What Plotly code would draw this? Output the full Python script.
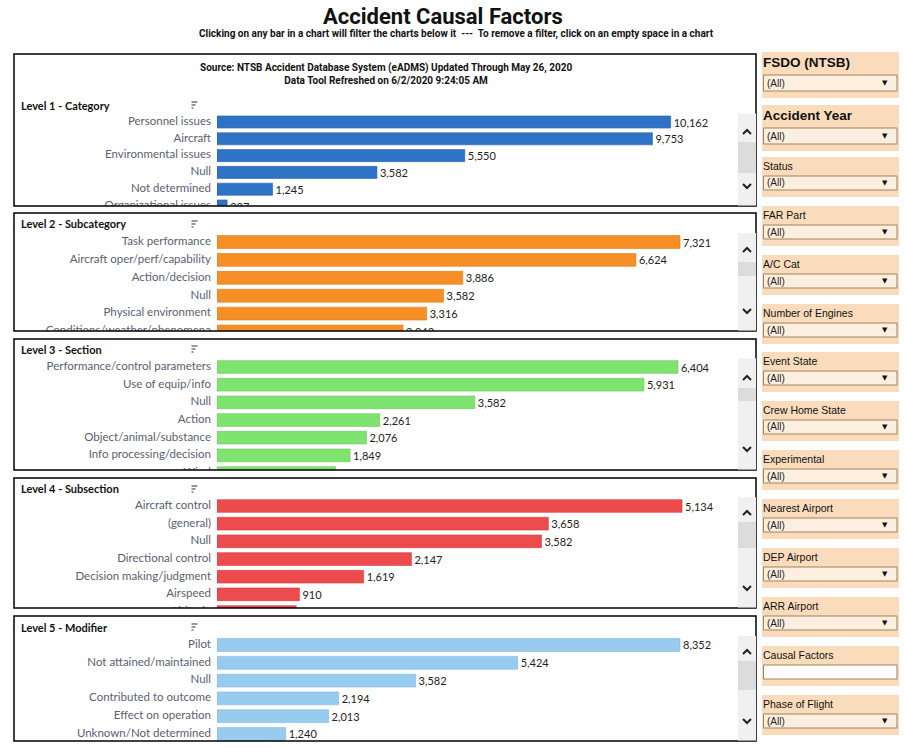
import plotly.graph_objects as go

W, H = 904, 748

# ---------------- data ----------------
level_titles = ["Level 1 - Category", "Level 2 - Subcategory", "Level 3 - Section",
                "Level 4 - Subsection", "Level 5 - Modifier"]

level1_labels = ["Personnel issues", "Aircraft", "Environmental issues", "Null",
                 "Not determined", "Organizational issues"]
level1_values = [10162, 9753, 5550, 3582, 1245, 227]

level2_labels = ["Task performance", "Aircraft oper/perf/capability", "Action/decision", "Null",
                 "Physical environment", "Conditions/weather/phenomena"]
level2_values = [7321, 6624, 3886, 3582, 3316, 2942]

level3_labels = ["Performance/control parameters", "Use of equip/info", "Null", "Action",
                 "Object/animal/substance", "Info processing/decision", "Wind"]
level3_values = [6404, 5931, 3582, 2261, 2076, 1849, 1645]

level4_labels = ["Aircraft control", "(general)", "Null", "Directional control",
                 "Decision making/judgment", "Airspeed", "Altitude"]
level4_values = [5134, 3658, 3582, 2147, 1619, 910, 875]

level5_labels = ["Pilot", "Not attained/maintained", "Null", "Contributed to outcome",
                 "Effect on operation", "Unknown/Not determined"]
level5_values = [8352, 5424, 3582, 2194, 2013, 1240]

filter_names = ["FSDO (NTSB)", "Accident Year", "Status", "FAR Part", "A/C Cat",
                "Number of Engines", "Event State", "Crew Home State", "Experimental",
                "Nearest Airport", "DEP Airport", "ARR Airport", "Causal Factors",
                "Phase of Flight"]
filter_value = "(All)"

title_text = "Accident Causal Factors"
subtitle_text = ("Clicking on any bar in a chart will filter the charts below it  ---  "
                 "To remove a filter, click on an empty space in a chart")
source_text = ("Source: NTSB Accident Database System (eADMS) Updated Through May 26, 2020"
               "<br>Data Tool Refreshed on 6/2/2020 9:24:05 AM")

# ---------------- styles ----------------
all_labels = [level1_labels, level2_labels, level3_labels, level4_labels, level5_labels]
all_values = [level1_values, level2_values, level3_values, level4_values, level5_values]
bar_colors = ["#2f73c6", "#f68f26", "#7fe36f", "#ee4b4f", "#98cbf0"]
bar_edges = ["#2a62a8", "#d97c1e", "#6cc85d", "#d03c40", "#84b7dc"]
axis_max = [11647, 8222, 7224, 5741, 9380]

# panel geometry in pixels: top border, bottom border, first row center, row step, title y
panels = [
    (54, 206, 122, 16.8, 105),
    (213, 331, 242, 17.9, 224),
    (339, 470, 367, 17.67, 349),
    (478, 608, 506, 17.67, 489),
    (616, 741, 645, 17.8, 627),
]
# scrollbar: thumb top, thumb bottom, up arrow y, down arrow y
scrolls = [
    (142, 173, 132, 186),
    (262, 276, 250, 311),
    (388, 401, 378, 449),
    (522, 548, 513, 588),
    (661, 690, 652, 721),
]

FONT = "Lato, Roboto, sans-serif"
LABEL_COLOR = "#596070"


def px(x):
    return x / W


def py(y):
    return 1 - y / H


fig = go.Figure()
layout = dict(
    width=W, height=H, autosize=False,
    margin=dict(l=0, r=0, t=0, b=0),
    paper_bgcolor="white", plot_bgcolor="rgba(0,0,0,0)",
    showlegend=False, hovermode=False,
)
shapes = []
annotations = []

for i in range(5):
    k = i + 1
    top, bottom, first, step, ty = panels[i]
    labels = all_labels[i]
    values = all_values[i]
    n = len(labels)
    ptop = first - step / 2
    ybottom = -0.5 + (bottom - ptop) / step
    xb = f"x{2 * k - 1}"
    xl = f"x{2 * k}"
    yk = f"y{k}"

    fig.add_trace(go.Bar(
        x=values, y=labels, orientation="h",
        marker=dict(color=bar_colors[i], line=dict(color=bar_edges[i], width=0.6)),
        width=0.72,
        text=[f"{v:,}" for v in values], textposition="outside",
        textfont=dict(family=FONT, size=11, color="#222222"),
        constraintext="none", cliponaxis=True,
        xaxis=xb, yaxis=yk,
    ))
    fig.add_trace(go.Scatter(
        x=[1] * n, y=labels, mode="text", text=labels,
        textposition="middle left",
        textfont=dict(family=FONT, size=11.5, color=LABEL_COLOR),
        cliponaxis=True, xaxis=xl, yaxis=yk,
    ))

    layout[f"xaxis{2 * k - 1}"] = dict(domain=[px(217), px(737)], anchor=yk,
                                      range=[0, axis_max[i]], visible=False, fixedrange=True)
    layout[f"xaxis{2 * k}"] = dict(domain=[px(15), px(211)], anchor=yk,
                                  range=[0, 1], visible=False, fixedrange=True)
    layout[f"yaxis{k}"] = dict(domain=[py(bottom), py(ptop)], anchor=f"x{2 * k - 1}",
                               type="category", categoryorder="array", categoryarray=labels,
                               range=[ybottom, -0.5], visible=False, fixedrange=True)

    # panel border
    shapes.append(dict(type="rect", xref="paper", yref="paper",
                       x0=px(14), x1=px(756), y0=py(bottom), y1=py(top),
                       line=dict(color="black", width=1.5), fillcolor="rgba(0,0,0,0)"))
    # panel title
    annotations.append(dict(text=f"<b>{level_titles[i]}</b>", xref="paper", yref="paper",
                            x=px(19), y=py(ty), xanchor="left", yanchor="middle",
                            showarrow=False, font=dict(family=FONT, size=11, color="#111")))
    # sort icon
    for j, ln in enumerate([6, 4, 2]):
        yy = ty - 3 + j * 3
        shapes.append(dict(type="line", xref="paper", yref="paper",
                           x0=px(191.5), x1=px(191.5 + ln), y0=py(yy), y1=py(yy),
                           line=dict(color="#555", width=1.2)))
    # scrollbar
    tt, tb, ua, da = scrolls[i]
    shapes.append(dict(type="rect", xref="paper", yref="paper",
                       x0=px(738), x1=px(756), y0=py(bottom - 0.5), y1=py(ptop),
                       line=dict(width=0), fillcolor="#f0f0f0"))
    shapes.append(dict(type="rect", xref="paper", yref="paper",
                       x0=px(738), x1=px(756), y0=py(tb), y1=py(tt),
                       line=dict(width=0), fillcolor="#dcdcdc"))
    shapes.append(dict(type="path", xref="paper", yref="paper",
                       path=f"M {px(743)},{py(ua + 2)} L {px(747)},{py(ua - 2)} L {px(751)},{py(ua + 2)}",
                       line=dict(color="#222", width=2)))
    shapes.append(dict(type="path", xref="paper", yref="paper",
                       path=f"M {px(743)},{py(da - 2)} L {px(747)},{py(da + 2)} L {px(751)},{py(da - 2)}",
                       line=dict(color="#222", width=2)))

# titles
annotations.append(dict(text=f"<b>{title_text}</b>", xref="paper", yref="paper",
                        x=px(443), y=py(17), xanchor="center", yanchor="middle",
                        showarrow=False, font=dict(family="Roboto, sans-serif", size=22, color="#111")))
annotations.append(dict(text=f"<b>{subtitle_text}</b>", xref="paper", yref="paper",
                        x=px(456), y=py(34), xanchor="center", yanchor="middle",
                        showarrow=False, font=dict(family="Roboto, sans-serif", size=10, color="#111")))
annotations.append(dict(text=f"<b>{source_text}</b>", xref="paper", yref="paper",
                        x=px(386), y=py(74), xanchor="center", yanchor="middle",
                        showarrow=False, align="center",
                        font=dict(family="Roboto, sans-serif", size=10, color="#111")))

# sidebar filters
label_ys = [62, 115, 166, 215, 264, 313, 361, 410, 459, 508, 557, 606, 655, 704]
PEACH = "#fadcbc"
BOXFILL = "#fdefe0"
BOXLINE = "#a2825c"
SFONT = "Liberation Sans, Arial, sans-serif"
for name, ly in zip(filter_names, label_ys):
    big = name in ("FSDO (NTSB)", "Accident Year")
    if big:
        bt, bb, xt, xbm = ly - 10, ly + 36, ly + 13, ly + 29
        fsize, lab = 13.5, f"<b>{name}</b>"
    else:
        bt, bb, xt, xbm = ly - 9, ly + 31, ly + 10, ly + 24
        fsize, lab = 10.5, name
    shapes.append(dict(type="rect", xref="paper", yref="paper",
                       x0=px(762), x1=px(899), y0=py(bb), y1=py(bt),
                       line=dict(width=0), fillcolor=PEACH, layer="below"))
    annotations.append(dict(text=lab, xref="paper", yref="paper",
                            x=px(761), y=py(ly), xanchor="left", yanchor="middle",
                            showarrow=False, font=dict(family=SFONT, size=fsize, color="#111")))
    is_text = name == "Causal Factors"
    shapes.append(dict(type="rect", xref="paper", yref="paper",
                       x0=px(763.5), x1=px(897), y0=py(xbm), y1=py(xt),
                       line=dict(color=BOXLINE, width=1),
                       fillcolor="white" if is_text else BOXFILL))
    if not is_text:
        ym = (xt + xbm) / 2
        annotations.append(dict(text=filter_value, xref="paper", yref="paper",
                                x=px(765), y=py(ym), xanchor="left", yanchor="middle",
                                showarrow=False, font=dict(family=SFONT, size=10, color="#222")))
        annotations.append(dict(text="▼", xref="paper", yref="paper",
                                x=px(885), y=py(ym), xanchor="center", yanchor="middle",
                                showarrow=False, font=dict(family="DejaVu Sans", size=7, color="#111")))

layout["shapes"] = shapes
layout["annotations"] = annotations
fig.update_layout(**layout)
fig.write_html("out.html", config={"displayModeBar": False},
               post_script="document.body.style.margin='0';document.body.style.overflow='hidden';")
